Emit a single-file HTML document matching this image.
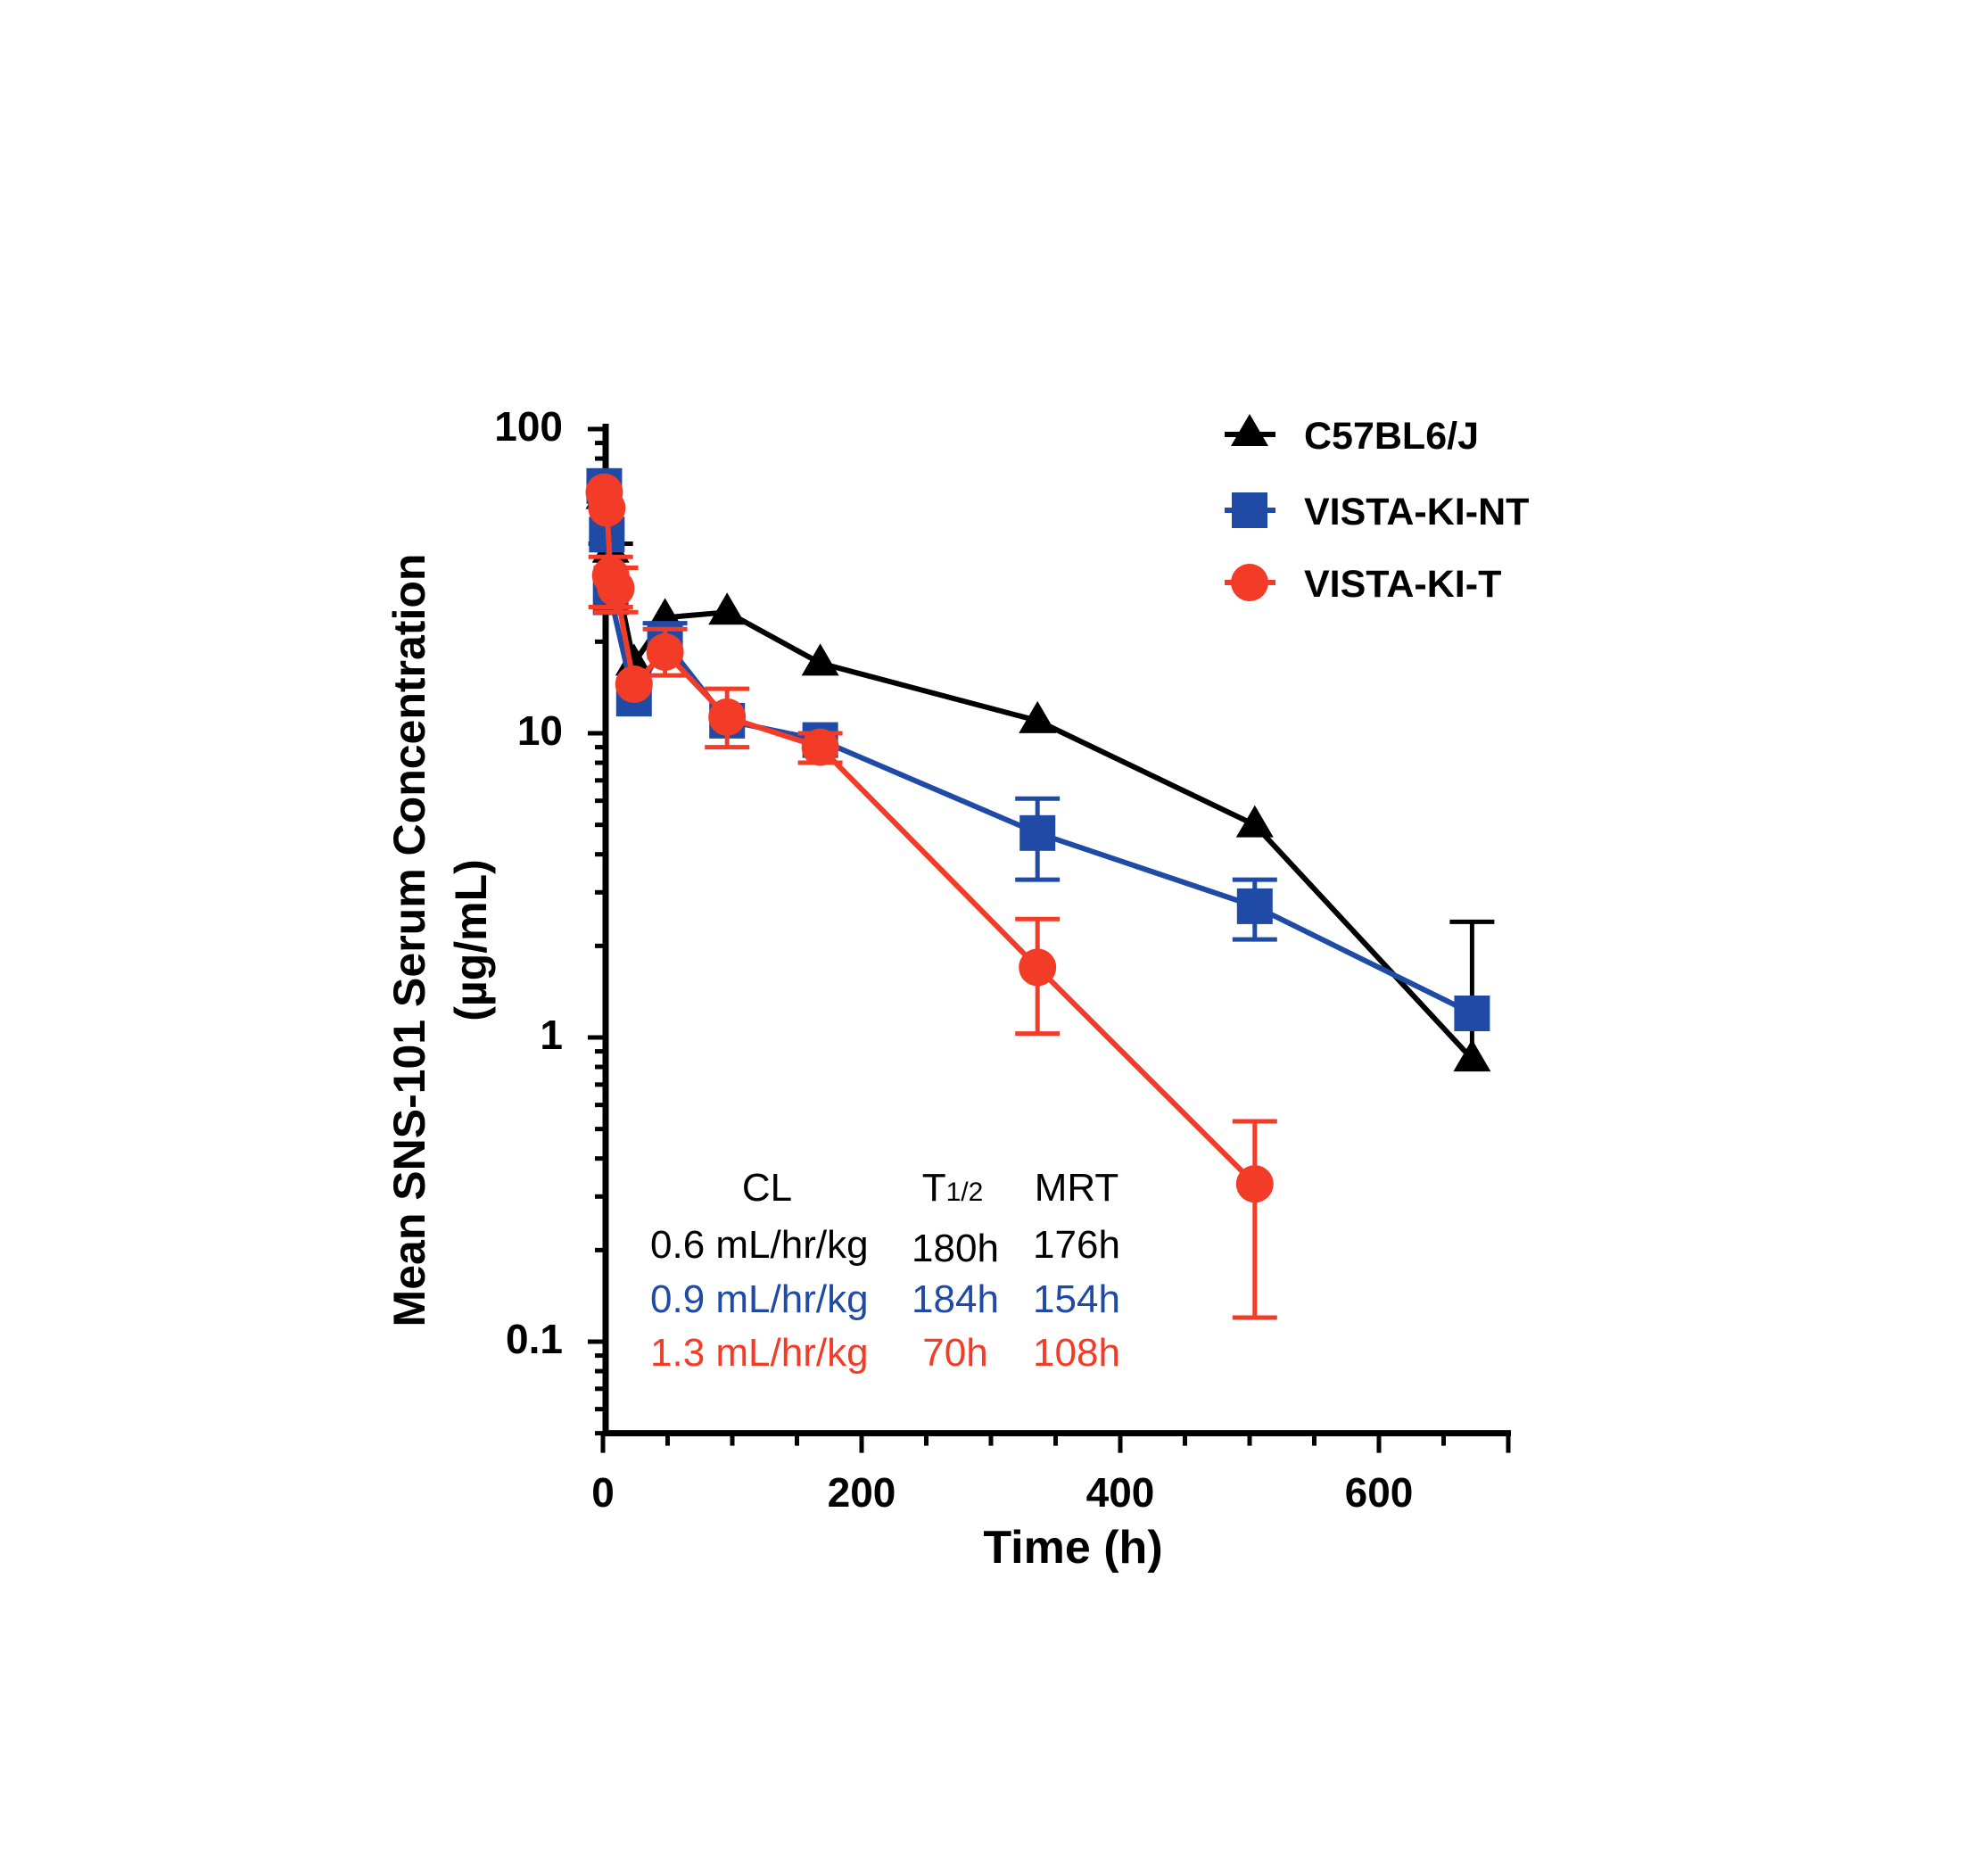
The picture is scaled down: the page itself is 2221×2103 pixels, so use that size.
<!DOCTYPE html>
<html><head><meta charset="utf-8"><style>
html,body{margin:0;padding:0;background:#fff;}
svg{display:block;font-family:"Liberation Sans",Arial,sans-serif;}
</style></head><body>
<svg id="chart" width="2221" height="2103" viewBox="0 0 2221 2103" xmlns="http://www.w3.org/2000/svg">
<g id="axes"></g>
<g id="series"></g>
<g font-weight="bold" font-size="43">
  <line x1="1373" y1="487" x2="1430" y2="487" stroke="#000" stroke-width="6"/>
  <polygon points="1401,464 1422,500 1380,500" fill="#000"/>
  <text x="1462" y="503">C57BL6/J</text>
  <line x1="1373" y1="572" x2="1430" y2="572" stroke="#1f4aa6" stroke-width="6"/>
  <rect x="1381" y="552" width="40" height="40" fill="#1f4aa6"/>
  <text x="1462" y="588">VISTA-KI-NT</text>
  <line x1="1373" y1="653" x2="1430" y2="653" stroke="#f23c28" stroke-width="6"/>
  <circle cx="1401" cy="653" r="21" fill="#f23c28"/>
  <text x="1462" y="669">VISTA-KI-T</text>
</g>
<g font-size="44">
  <text x="860" y="1346" text-anchor="middle">CL</text>
  <text x="1068" y="1346" text-anchor="middle">T<tspan font-size="30">1/2</tspan></text>
  <text x="1207" y="1346" text-anchor="middle">MRT</text>
  <text x="729" y="1410" fill="#000">0.6 mL/hr/kg</text>
  <text x="1071" y="1414" text-anchor="middle" fill="#000">180h</text>
  <text x="1207" y="1410" text-anchor="middle" fill="#000">176h</text>
  <text x="729" y="1471" fill="#1f4aa6">0.9 mL/hr/kg</text>
  <text x="1071" y="1471" text-anchor="middle" fill="#1f4aa6">184h</text>
  <text x="1207" y="1471" text-anchor="middle" fill="#1f4aa6">154h</text>
  <text x="729" y="1531" fill="#f23c28">1.3 mL/hr/kg</text>
  <text x="1071" y="1531" text-anchor="middle" fill="#f23c28">70h</text>
  <text x="1207" y="1531" text-anchor="middle" fill="#f23c28">108h</text>
</g>
<text x="1203" y="1752" text-anchor="middle" font-weight="bold" font-size="52">Time (h)</text>
<text transform="translate(476,1054) rotate(-90)" text-anchor="middle" font-weight="bold" font-size="50">Mean SNS-101 Serum Concentration</text>
<text transform="translate(545,1054) rotate(-90)" text-anchor="middle" font-weight="bold" font-size="50">(µg/mL)</text>
<script>
const blackTimes = [1, 6, 24, 48, 96, 168, 336, 504, 672];
const blackVals = [60, 40, 17, 24, 25, 17, 11, 5, 0.85];
const blackHi = [null, 42, null, null, null, null, null, null, 2.4];
const blackLo = [null, null, null, null, null, null, null, null, null];
const blueTimes = [1, 3, 6, 24, 48, 96, 168, 336, 504, 672];
const blueVals = [65, 45, 28, 13, 20, 11, 9.5, 4.7, 2.7, 1.2];
const blueHi = [null, null, null, null, 23, null, null, 6.1, 3.3, null];
const blueLo = [null, null, null, null, null, null, null, 3.3, 2.1, null];
const redTimes = [1, 3, 6, 10, 24, 48, 96, 168, 336, 504];
const redVals = [62, 55, 33, 30, 14.5, 18.5, 11.3, 9, 1.7, 0.33];
const redHi = [null, null, 38, 35, null, 22, 14, 10, 2.45, 0.53];
const redLo = [null, null, 26, 25, null, 15.5, 9, 8, 1.03, 0.12];
const xTicks = [0, 200, 400, 600];
const yTicks = [100, 10, 1, 0.1];
const yTickLabels = ["100", "10", "1", "0.1"];

const NS = "http://www.w3.org/2000/svg";
const X0 = 676, XS = 1.45, Y100 = 481, DEC = 341;
function xs(t){ return X0 + t * XS; }
function ys(v){ return Y100 + (2 - Math.log10(v)) * DEC; }
function mk(tag, attrs, parent){ const e=document.createElementNS(NS, tag); for(const k in attrs) e.setAttribute(k, attrs[k]); parent.appendChild(e); return e; }

const axes = document.getElementById('axes');
const yBottom = ys(0.05), yTop = ys(100) - 6;
const axisX = X0 + 3;
const yaxis = mk('line', {x1:axisX, y1:yTop, x2:axisX, y2:yBottom+3, stroke:'#000','stroke-width':7}, axes);


const xaxis = mk('line', {x1:axisX-3, y1:yBottom, x2:xs(700)+3, y2:yBottom, stroke:'#000','stroke-width':7}, axes);


for (let d = -2; d <= 1; d++) {
  for (let m = 1; m <= 9; m++) {
    const v = m * Math.pow(10, d);
    if (v < 0.05 || v > 100) continue;
    const major = m === 1;
    mk('line', {x1:axisX-(major?20:12), y1:ys(v), x2:axisX, y2:ys(v), stroke:'#000','stroke-width':5}, axes);
  }
}
mk('line', {x1:axisX-20, y1:ys(100), x2:axisX, y2:ys(100), stroke:'#000','stroke-width':5}, axes);
yTicks.forEach((v,i)=>{
  const t = mk('text', {x:631, y:ys(v)+13, 'text-anchor':'end','font-weight':'bold','font-size':46}, axes);
  t.textContent = yTickLabels[i];
  
  
});
for (let t = 0; t <= 700; t += 50) {
  const major = t % 200 === 0 || t === 700;
  mk('line', {x1:xs(t), y1:yBottom, x2:xs(t), y2:yBottom+(major?22:14), stroke:'#000','stroke-width':5}, axes);
}
xTicks.forEach(t=>{
  const e = mk('text', {x:xs(t), y:1689, 'text-anchor':'middle','font-weight':'bold','font-size':46}, axes);
  e.textContent = String(t);
  
  
});

const sg = document.getElementById('series');
function drawSeries(name, tms, vals, hi, lo, color, shape){
  const g = mk('g', {}, sg);
  
  
  const pts = tms.map((t,i)=>xs(t)+','+ys(vals[i])).join(' ');
  mk('polyline', {points:pts, fill:'none', stroke:color, 'stroke-width':6, 'stroke-linejoin':'round'}, g);
  tms.forEach((t,i)=>{
    const x = xs(t);
    [hi[i], lo[i]].forEach(e=>{
      if (e == null) return;
      mk('line', {x1:x, y1:ys(vals[i]), x2:x, y2:ys(e), stroke:color, 'stroke-width':5}, g);
      mk('line', {x1:x-25, y1:ys(e), x2:x+25, y2:ys(e), stroke:color, 'stroke-width':5}, g);
    });
  });
  tms.forEach((t,i)=>{
    const x = xs(t), y = ys(vals[i]);
    let m;
    if (shape === 'tri') m = mk('polygon', {points:`${x},${y-22} ${x+21},${y+14} ${x-21},${y+14}`, fill:color}, g);
    else if (shape === 'sq') m = mk('rect', {x:x-20, y:y-20, width:40, height:40, fill:color}, g);
    else m = mk('circle', {cx:x, cy:y, r:21, fill:color}, g);
    
    
  });
}
drawSeries('series-c57bl6j', blackTimes, blackVals, blackHi, blackLo, '#000', 'tri');
drawSeries('series-vista-ki-nt', blueTimes, blueVals, blueHi, blueLo, '#1f4aa6', 'sq');
drawSeries('series-vista-ki-t', redTimes, redVals, redHi, redLo, '#f23c28', 'circ');
</script>
</svg>
</body></html>
